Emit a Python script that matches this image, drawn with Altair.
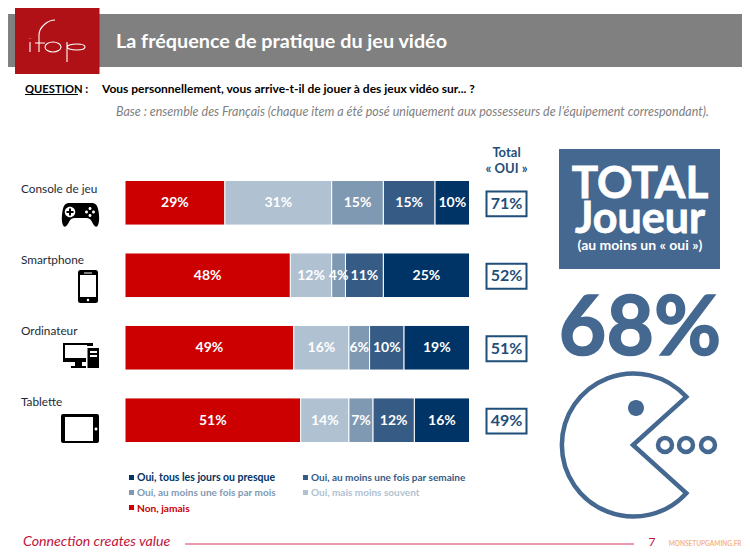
import altair as alt
import pandas as pd

categories = ["Console de jeu", "Smartphone", "Ordinateur", "Tablette"]
series = ["Non, jamais", "Oui, mais moins souvent", "Oui, au moins une fois par mois",
          "Oui, au moins une fois par semaine", "Oui, tous les jours ou presque"]
non_jamais = [29, 48, 49, 51]
moins_souvent = [31, 12, 16, 14]
par_mois = [15, 4, 6, 7]
par_semaine = [15, 11, 10, 12]
tous_les_jours = [10, 25, 19, 16]
total_oui = ["71%", "52%", "51%", "49%"]
colors = ["#cc0000", "#b0c1d2", "#7f99b2", "#365b85", "#003366"]

FONT = "Lato"
BLUE = "#44688f"
NAVY = "#1f4e79"
INK = "#1e2a36"


def px(v):
    return v - 8


rows = []
for i, cat in enumerate(categories):
    start = 0
    for name, vals in zip(series, [non_jamais, moins_souvent, par_mois, par_semaine, tous_les_jours]):
        v = vals[i]
        rows.append({"cat": cat, "serie": name, "start": start, "end": start + v,
                     "mid": start + v / 2, "label": f"{v}%"})
        start += v
df = pd.DataFrame(rows)
totals = pd.DataFrame({"cat": categories, "total": total_oui})

xs = alt.Scale(domain=[0, 100], range=[px(125), px(469.5)])
ys = alt.Scale(domain=categories, range=[px(180.5), px(442.5)], paddingInner=0.385, paddingOuter=0)
cs = alt.Scale(domain=series, range=colors)

one = alt.Data(values=[{"a": 1}])


def text(s, x, y, size=12, color="#000000", weight="normal", style="normal", align="left", font=FONT, thicken=0):
    props = dict(text=s, font=font, fontSize=size, color=color, fontWeight=weight,
                 fontStyle=style, align=align, baseline="alphabetic")
    if thicken:
        props["stroke"] = color
        props["strokeWidth"] = thicken
    return alt.Chart(one).mark_text(**props).encode(x=alt.value(px(x)), y=alt.value(px(y)))


def box(x1, y1, x2, y2, fill):
    return alt.Chart(one).mark_rect(color=fill).encode(
        x=alt.value(px(x1)), x2=alt.value(px(x2)), y=alt.value(px(y1)), y2=alt.value(px(y2)))


def line(x1, y1, x2, color, w=1.0):
    return alt.Chart(one).mark_rule(color=color, strokeWidth=w).encode(
        x=alt.value(px(x1)), x2=alt.value(px(x2)), y=alt.value(px(y1)))


def glyph(path, x, y, span=2, fill=None, stroke=None, sw=1.0):
    """span=2 makes the path's units equal to pixels around (x, y)."""
    props = dict(shape=path, size=span * span, opacity=1, filled=fill is not None)
    if fill is not None:
        props["fill"] = fill
    if stroke is not None:
        props["stroke"] = stroke
        props["strokeWidth"] = sw
    else:
        props["strokeWidth"] = 0
    return alt.Chart(one).mark_point(**props).encode(x=alt.value(px(x)), y=alt.value(px(y)))


def rect_path(w, h):
    return f"M{-w},{-h}L{w},{-h}L{w},{h}L{-w},{h}Z"


def round_rect(w, h, r):
    return (f"M{-w + r},{-h}L{w - r},{-h}Q{w},{-h} {w},{-h + r}L{w},{h - r}Q{w},{h} {w - r},{h}"
            f"L{-w + r},{h}Q{-w},{h} {-w},{h - r}L{-w},{-h + r}Q{-w},{-h} {-w + r},{-h}Z")


CIRCLE = "M-1,0A1,1 0 1 1 1,0A1,1 0 1 1 -1,0Z"
PAD = ("M-11,-12L11,-12C15,-12 17,-10 18,-4C19,2 19,8 17,11C15,13 13,10 11,6C10,4 8,3 6,3"
       "L-6,3C-8,3 -10,4 -11,6C-13,10 -15,13 -17,11C-19,8 -19,2 -18,-4C-17,-10 -15,-12 -11,-12Z")
PLUS = "M-1,-3.5L1,-3.5L1,-1L3.5,-1L3.5,1L1,1L1,3.5L-1,3.5L-1,1L-3.5,1L-3.5,-1L-1,-1Z"
PACMAN = "M0.73,-0.66A0.98,0.98 0 1 0 0.73,0.66L0,0L0.73,-0.66Z"
# ifop logo strokes, in pixels around the logo's centre (57, 41)
LOGO = ("M-27,1L-27,11"
        "M-27,-2L-27,-2.6"
        "M-18,11L-18,-6C-18,-14 -9,-21 -2,-21"
        "M-22,2L-12,2"
        "M-12,6A8,5 0 1 1 4,6A8,5 0 1 1 -12,6Z"
        "M10,1L10,21"
        "M10,6C12,2 28,2 28,6C28,10 12,10 10,6Z")

layers = [
    # header
    box(0, 14, 750, 67, "#808080"),
    box(15, 8, 99.5, 74, "#b01116"),
    glyph(LOGO, 57, 41, stroke="#ffffff", sw=1.1),
    text("La fréquence de pratique du jeu vidéo", 116, 48, size=19.8, color="#ffffff", weight="bold"),
    text("QUESTION :", 25, 93, size=11.2, weight="bold"),
    line(25, 94.5, 78, "#000000", 1),
    text("Vous personnellement, vous arrive-t-il de jouer à des jeux vidéo sur... ?", 102, 93, size=12, weight="bold"),
    text("Base : ensemble des Français (chaque item a été posé uniquement aux possesseurs de l’équipement correspondant).",
         116, 116, size=12.5, color="#7f7f7f", style="italic"),
    # bars
    alt.Chart(df).mark_bar(stroke="#ffffff", strokeWidth=1).encode(
        x=alt.X("start:Q", scale=xs, axis=None), x2="end:Q",
        y=alt.Y("cat:N", scale=ys, axis=None, sort=categories),
        color=alt.Color("serie:N", scale=cs, legend=None)),
    alt.Chart(df).mark_text(font=FONT, fontSize=14, fontWeight="bold", color="#ffffff", dy=0.5).encode(
        x=alt.X("mid:Q", scale=xs, axis=None),
        y=alt.Y("cat:N", scale=ys, axis=None, sort=categories),
        text="label:N"),
    # totals
    text("Total", 506.5, 156.5, size=13, color=NAVY, weight="bold", align="center"),
    text("« OUI »", 506.5, 173, size=13, color=NAVY, weight="bold", align="center"),
    alt.Chart(totals).mark_point(shape=rect_path(1, 0.62), size=40 * 40, filled=True, fill="#ffffff",
                                 stroke=NAVY, strokeWidth=2, opacity=1, yOffset=1).encode(
        x=alt.value(px(506.5)), y=alt.Y("cat:N", scale=ys, axis=None, sort=categories)),
    alt.Chart(totals).mark_text(font=FONT, fontSize=16, fontWeight="bold", color=NAVY, yOffset=1).encode(
        x=alt.value(px(506.5)), y=alt.Y("cat:N", scale=ys, axis=None, sort=categories), text="total:N"),
    # category labels
    text(categories[0], 21, 193, size=11.8, color=INK),
    text(categories[1], 21, 264, size=11.8, color=INK),
    text(categories[2], 21, 335, size=11.8, color=INK),
    text(categories[3], 21, 406, size=11.8, color=INK),
    # gamepad
    glyph(PAD, 80.5, 215, fill="#000000"),
    glyph(CIRCLE, 70, 212, 10.5, fill="#ffffff"),
    glyph(PLUS, 70, 212, fill="#000000"),
    glyph(CIRCLE, 90, 208.5, 3, fill="#ffffff"),
    glyph(CIRCLE, 90, 215.5, 3, fill="#ffffff"),
    glyph(CIRCLE, 86.5, 212, 3, fill="#ffffff"),
    glyph(CIRCLE, 93.5, 212, 3, fill="#ffffff"),
    # phone
    glyph(round_rect(10, 16.5, 2.5), 88, 286.5, fill="#000000"),
    box(80, 275, 96, 297, "#ffffff"),
    box(84, 272.5, 92, 273.5, "#ffffff"),
    glyph(CIRCLE, 88, 300, 2.5, fill="#ffffff"),
    # computer
    box(63, 343, 93, 362, "#000000"),
    box(65, 345, 92, 358, "#ffffff"),
    box(87, 345, 93, 362, "#000000"),
    box(86, 346, 93, 368, "#ffffff"),
    box(75, 362, 82, 366, "#000000"),
    box(71, 366, 86, 368, "#000000"),
    box(87.5, 348, 99, 368, "#000000"),
    box(90, 351, 97, 353, "#ffffff"),
    box(90, 355, 97, 357, "#ffffff"),
    # tablet
    glyph(round_rect(19, 14.5, 2), 80, 428.5, fill="#000000"),
    box(65, 417, 93, 441, "#ffffff"),
    glyph(CIRCLE, 96, 429, 3, fill="#ffffff"),
    # legend
    box(129, 475, 134, 480, colors[4]),
    text(series[4], 137, 481, size=10.5, color=colors[4], weight="bold"),
    box(303, 475, 308, 480, colors[3]),
    text(series[3], 311, 481, size=10, color=colors[3], weight="bold"),
    box(129, 490, 134, 495, colors[2]),
    text(series[2], 137, 496, size=10, color=colors[2], weight="bold"),
    box(303, 490, 308, 495, colors[1]),
    text(series[1], 311, 496, size=10, color=colors[1], weight="bold"),
    box(129, 505, 134, 510, colors[0]),
    text(series[0], 137, 512, size=10.2, color=colors[0], weight="bold"),
    # right panel
    box(559, 149, 720, 269, BLUE),
    text("TOTAL", 640, 198, size=44, color="#ffffff", weight="bold", align="center", thicken=0.8),
    text("Joueur", 640, 233, size=43, color="#ffffff", weight="bold", align="center", thicken=0.8),
    text("(au moins un « oui »)", 640, 250, size=14, color="#ffffff", weight="bold", align="center"),
    text("68%", 640, 354.5, size=82, color=BLUE, weight="bold", align="center", thicken=1.5),
    glyph(PACMAN, 633, 445, 146, fill="#ffffff", stroke=BLUE, sw=4.5),
    glyph(CIRCLE, 636, 408, 16, fill=BLUE),
    glyph(CIRCLE, 665, 445, 14, fill="#ffffff", stroke=BLUE, sw=4.5),
    glyph(CIRCLE, 686, 445, 14, fill="#ffffff", stroke=BLUE, sw=4.5),
    glyph(CIRCLE, 708, 445, 14, fill="#ffffff", stroke=BLUE, sw=4.5),
    # footer
    text("Connection creates value", 23, 546, size=14.2, color="#c0143c", style="italic"),
    line(185, 544, 634, "#d4345a", 1),
    text("7", 652, 546, size=12, color="#c0143c", align="center"),
    text("MONSETUPGAMING.FR", 741.5, 546, size=6.5, color="#f5b48c", weight="bold", align="right"),
]

chart = alt.layer(*layers).resolve_scale(color="independent").properties(
    width=734, height=541, padding=0, autosize=alt.AutoSizeParams(type="none")
).configure_view(stroke=None)

chart.save("out.html", embed_options={"renderer": "svg", "actions": False})
